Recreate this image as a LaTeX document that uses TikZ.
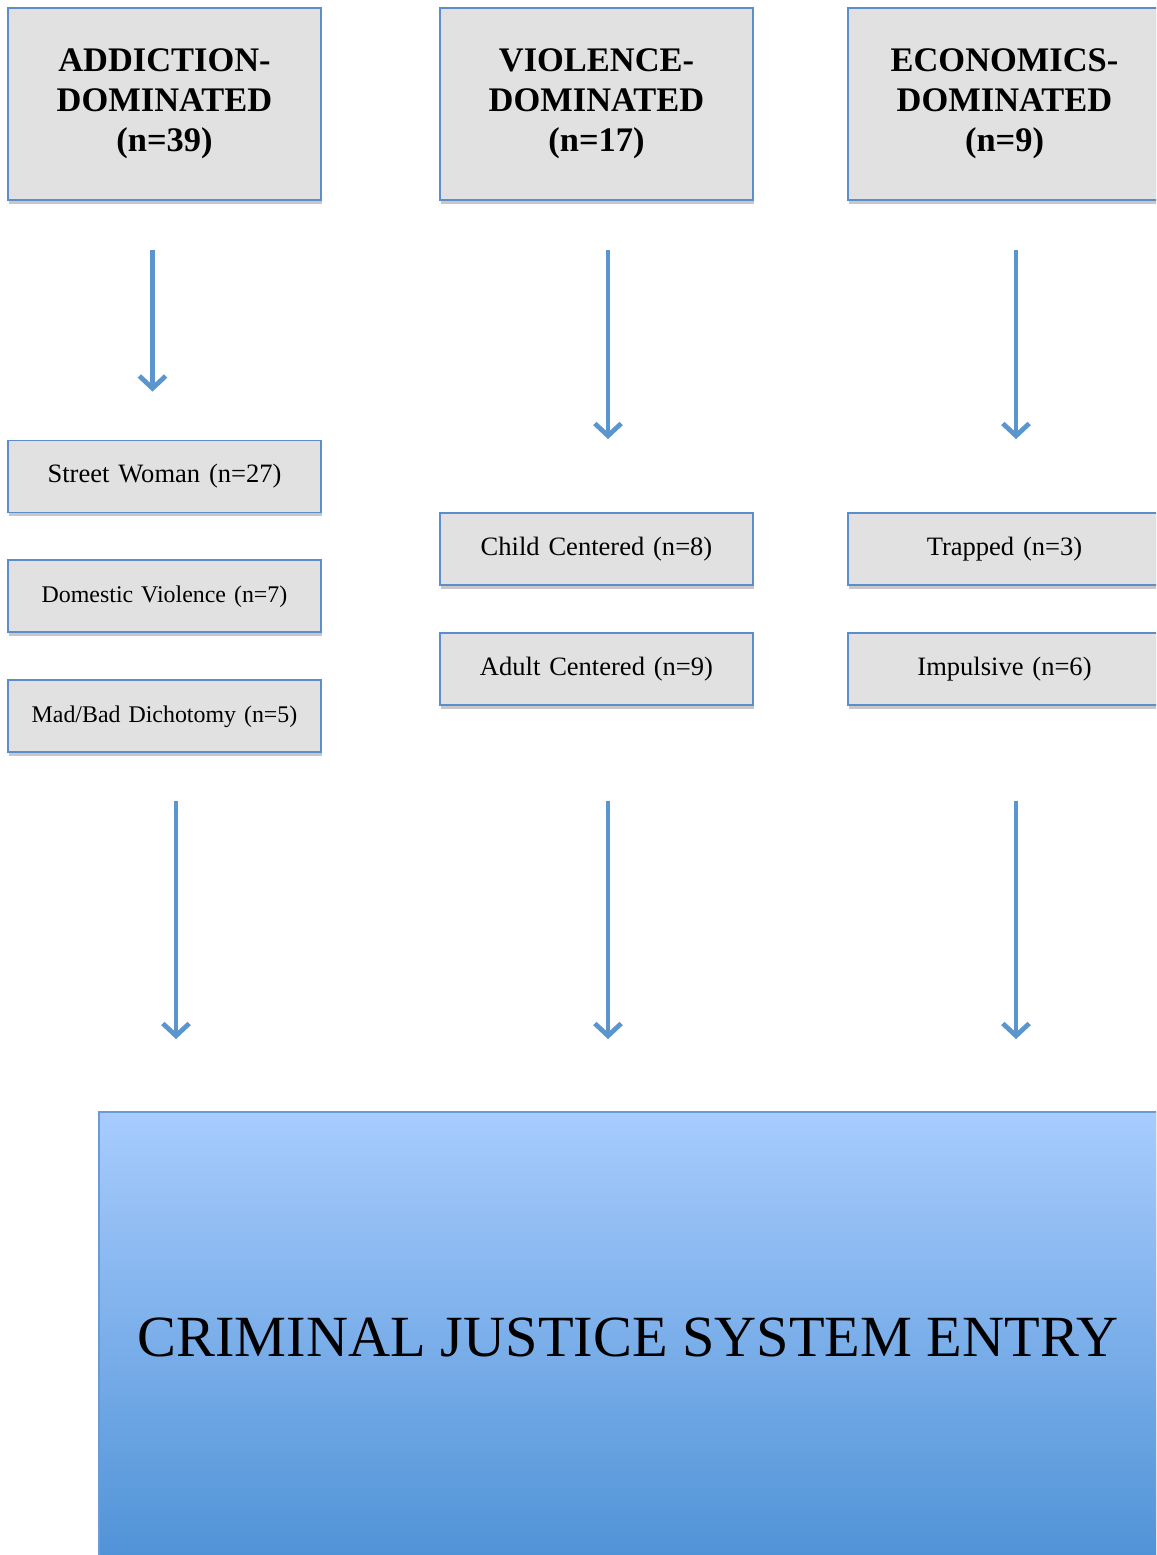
\documentclass[tikz,border=0pt]{standalone}
\usepackage{fontspec}
\setmainfont{Liberation Serif}
\usetikzlibrary{arrows.meta, positioning, calc, shadows}
\definecolor{box-fill}{HTML}{E1E1E1}
\definecolor{box-border}{HTML}{5B8ECF}
\definecolor{arrow-blue}{HTML}{5B95D0}
\definecolor{entry-top}{HTML}{A8CCFE}
\definecolor{entry-bottom}{HTML}{4F92D6}
\definecolor{entry-border}{HTML}{6B9BD6}
\tikzset{
  box-shadow/.style={drop shadow={shadow xshift=0.6pt, shadow yshift=-2.2pt, fill=black, opacity=0.22}},
  type-node/.style={
    draw=box-border, fill=box-fill, line width=1.1pt, box-shadow,
    minimum width=6.26cm, minimum height=3.84cm, text width=6cm,
    align=center, font=\fontsize{19.6}{22.7}\selectfont\bfseries
  },
  sub-node/.style={
    draw=box-border, fill=box-fill, line width=1.1pt, box-shadow,
    minimum width=6.26cm, minimum height=1.44cm, text width=6cm,
    align=center, font=\fontsize{15.1}{18}\selectfont
  },
  small-text/.style={font=\fontsize{13.6}{16}\selectfont},
  entry-node/.style={
    draw=entry-border, line width=1.1pt, top color=entry-top, bottom color=entry-bottom,
    minimum width=21.16cm, minimum height=9cm, font=\fontsize{33.2}{40}\selectfont
  },
  flow-edge/.style={-{Straight Barb[length=7pt, width=15pt]}, line width=2.7pt, draw=arrow-blue}
}
\begin{document}
\begin{tikzpicture}[x=0.2mm, y=-0.2mm]
  \useasboundingbox (0,0) rectangle (1156,1555);
  \clip (0,0) rectangle (1156,1555);

  % Three pathway types
  \node[type-node] (add) at (164.5,104) {ADDICTION-\\DOMINATED\\(n=39)};
  \node[type-node] (vio) at (596.5,104) {VIOLENCE-\\DOMINATED\\(n=17)};
  \node[type-node] (eco) at (1004.5,104) {ECONOMICS-\\DOMINATED\\(n=9)};

  % Sub-types
  \node[sub-node] (street) at (164.5,476.5) {Street Woman (n=27)};
  \node[sub-node, small-text, below=0.92cm of street] (domestic) {Domestic Violence (n=7)};
  \node[sub-node, small-text, below=0.92cm of domestic] (madbad) {Mad/Bad Dichotomy (n=5)};

  \node[sub-node] (child) at (596.5,549) {Child Centered (n=8)};
  \node[sub-node, below=0.92cm of child] (adult) {Adult Centered (n=9)};

  \node[sub-node] (trapped) at (1004.5,549) {Trapped (n=3)};
  \node[sub-node, below=0.92cm of trapped] (impulsive) {Impulsive (n=6)};

  % Outcome
  \node[entry-node] (entry) at (628,1337) {CRIMINAL JUSTICE SYSTEM ENTRY};

  % Arrows
  \draw[flow-edge] ($(add.south)+(-12,49)$) -- ($(street.north)+(-12,-48)$);
  \draw[flow-edge] ($(vio.south)+(11.5,49)$) -- ($(child.north)+(11.5,-73)$);
  \draw[flow-edge] ($(eco.south)+(11.5,49)$) -- ($(trapped.north)+(11.5,-73)$);

  \draw[flow-edge] ($(madbad.south)+(11.5,48)$) -- ($(entry.north -| madbad.south)+(11.5,-72)$);
  \draw[flow-edge] ($(adult.south)+(11.5,95)$) -- ($(entry.north -| adult.south)+(11.5,-72)$);
  \draw[flow-edge] ($(impulsive.south)+(11.5,95)$) -- ($(entry.north -| impulsive.south)+(11.5,-72)$);
\end{tikzpicture}
\end{document}
